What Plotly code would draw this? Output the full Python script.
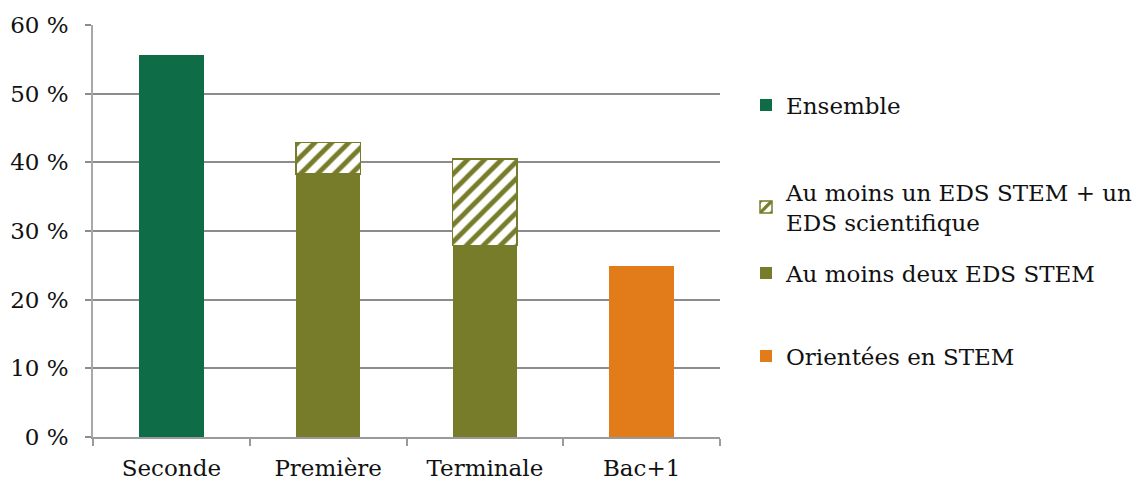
import plotly.graph_objects as go

categories = ["Seconde", "Première", "Terminale", "Bac+1"]
ensemble = [55.7, None, None, None]
deux_eds = [None, 38.3, 27.9, None]
un_eds_sci = [None, 4.6, 12.6, None]
orientees = [None, None, None, 24.9]
y_ticks = [0, 10, 20, 30, 40, 50, 60]
y_labels = [f"{v} %" for v in y_ticks]

FONT = "DejaVu Serif"
GREEN = "#0E6D46"
OLIVE = "#767C29"
ORANGE = "#E27C1B"

fig = go.Figure()
fig.add_bar(x=categories, y=ensemble, name="Ensemble", showlegend=True,
            marker=dict(color=GREEN, line=dict(width=0)), legend="legend")
fig.add_bar(x=categories, y=deux_eds, name="Au moins deux EDS STEM", showlegend=True,
            marker=dict(color=OLIVE, line=dict(width=0)), legend="legend3")
fig.add_bar(x=categories, y=un_eds_sci, name="Au moins un EDS STEM + un<br>EDS scientifique",
            showlegend=True,
            marker=dict(color="white", line=dict(color=OLIVE, width=1.5),
                        pattern=dict(shape="/", fgcolor=OLIVE, bgcolor="white",
                                     size=12, solidity=0.4, fillmode="replace")),
            legend="legend2")
fig.add_bar(x=categories, y=orientees, name="Orientées en STEM", showlegend=True,
            marker=dict(color=ORANGE, line=dict(width=0)), legend="legend4")

# page body has an 8px margin; figure coords = screen coords - 8
OFF = 8

def leg(ycenter):
    return dict(xref="container", yref="container", x=(746 - OFF) / 1143,
                y=1 - (ycenter - OFF) / 482,
                xanchor="left", yanchor="middle", bgcolor="rgba(0,0,0,0)",
                font=dict(family=FONT, size=23, color="#111"), itemwidth=30,
                traceorder="normal", visible=True)

fig.update_layout(
    width=1143, height=482,
    margin=dict(l=93 - OFF, r=1143 - 720 + OFF, t=25 - OFF, b=482 - 437 + OFF),
    paper_bgcolor="white", plot_bgcolor="white",
    showlegend=True,
    barmode="stack", bargap=0.59,
    font=dict(family=FONT, size=23, color="#111"),
    legend=leg(105), legend2=leg(207), legend3=leg(273), legend4=leg(356),
    xaxis=dict(type="category", showline=True, linecolor="#9a9a9a", linewidth=1.5,
               ticks="outside", tickson="boundaries", ticklen=7, tickcolor="#9a9a9a",
               tickwidth=1.5, showgrid=False, automargin=False, ticklabelstandoff=10,
               tickfont=dict(size=23, family=FONT)),
    yaxis=dict(range=[0, 60], tickvals=y_ticks, ticktext=y_labels, showgrid=True,
               gridcolor="#8c8c8c", gridwidth=1.5, showline=True, linecolor="#a8a8a8",
               linewidth=1.5, ticks="outside", ticklen=6, tickcolor="#8c8c8c",
               tickwidth=1.5, zeroline=False, automargin=False, ticklabelstandoff=12,
               tickfont=dict(size=23, family=FONT)),
)
fig.write_html("out.html")
